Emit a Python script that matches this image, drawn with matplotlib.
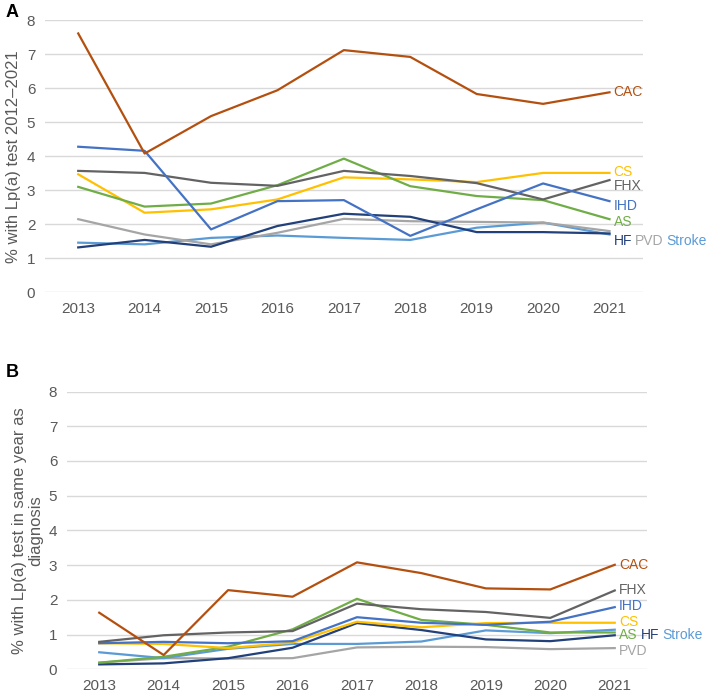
import matplotlib.pyplot as plt

plt.rcParams['font.family'] = ['Liberation Sans', 'DejaVu Sans']

years = ['2013', '2014', '2015', '2016', '2017', '2018', '2019', '2020', '2021']

# Panel A: % with Lp(a) test 2012-2021
a_cac = [7.61, 4.08, 5.18, 5.94, 7.12, 6.92, 5.83, 5.54, 5.88]
a_ihd = [4.28, 4.16, 1.85, 2.68, 2.71, 1.66, 2.44, 3.20, 2.68]
a_fhx = [3.57, 3.51, 3.22, 3.13, 3.57, 3.42, 3.21, 2.73, 3.30]
a_as = [3.10, 2.52, 2.61, 3.15, 3.93, 3.12, 2.83, 2.71, 2.15]
a_cs = [3.47, 2.34, 2.44, 2.73, 3.38, 3.32, 3.24, 3.51, 3.51]
a_hf = [1.32, 1.54, 1.34, 1.95, 2.31, 2.22, 1.77, 1.77, 1.73]
a_pvd = [2.15, 1.70, 1.41, 1.75, 2.16, 2.09, 2.07, 2.05, 1.80]
a_stroke = [1.46, 1.41, 1.60, 1.67, 1.60, 1.54, 1.90, 2.05, 1.70]

# Panel B: % with Lp(a) test in same year as diagnosis
b_cac = [1.63, 0.41, 2.28, 2.09, 3.08, 2.77, 2.33, 2.30, 3.01]
b_fhx = [0.79, 0.98, 1.06, 1.10, 1.89, 1.73, 1.65, 1.48, 2.27]
b_ihd = [0.75, 0.79, 0.75, 0.81, 1.50, 1.34, 1.28, 1.37, 1.79]
b_cs = [0.75, 0.73, 0.61, 0.77, 1.37, 1.21, 1.33, 1.34, 1.34]
b_as = [0.19, 0.36, 0.65, 1.15, 2.03, 1.42, 1.28, 1.06, 1.06]
b_hf = [0.14, 0.17, 0.32, 0.62, 1.33, 1.13, 0.86, 0.81, 0.98]
b_stroke = [0.49, 0.32, 0.59, 0.73, 0.73, 0.80, 1.12, 1.04, 1.14]
b_pvd = [0.19, 0.32, 0.31, 0.32, 0.63, 0.65, 0.64, 0.58, 0.61]

colors = {'CAC': '#B4500F', 'IHD': '#4472C4', 'FHX': '#636363', 'AS': '#70AD47',
          'CS': '#FFC000', 'HF': '#22407A', 'PVD': '#A5A5A5', 'Stroke': '#5B9BD5'}

# draw order (back to front)
series_a = [('Stroke', a_stroke), ('PVD', a_pvd), ('HF', a_hf), ('CS', a_cs),
            ('AS', a_as), ('FHX', a_fhx), ('IHD', a_ihd), ('CAC', a_cac)]
series_b = [('PVD', b_pvd), ('Stroke', b_stroke), ('HF', b_hf), ('AS', b_as),
            ('CS', b_cs), ('IHD', b_ihd), ('FHX', b_fhx), ('CAC', b_cac)]

# end labels: (label group, y position)
labels_a = [(['CAC'], 5.88), (['CS'], 3.53), (['FHX'], 3.14), (['IHD'], 2.55),
            (['AS'], 2.06), (['HF', 'PVD', 'Stroke'], 1.52)]
labels_b = [(['CAC'], 3.01), (['FHX'], 2.29), (['IHD'], 1.81), (['CS'], 1.35),
            (['AS', 'HF', 'Stroke'], 0.98), (['PVD'], 0.53)]

fig = plt.figure(figsize=(7.09, 6.96), dpi=100)
ax_a = fig.add_axes([0.0635, 0.580, 0.843, 0.391])
ax_b = fig.add_axes([0.0945, 0.0384, 0.818, 0.399])

tick_col = '#595959'


def draw_panel(ax, series, labels, ylabel):
    x = list(range(len(years)))
    for name, vals in series:
        ax.plot(x, vals, color=colors[name], lw=1.6)
    ax.set_xlim(-0.5, len(years) - 0.5)
    ax.set_ylim(0, 8)
    ax.set_yticks(range(0, 9))
    ax.set_xticks(x)
    ax.set_xticklabels(years)
    ax.yaxis.grid(True, color='#D9D9D9', lw=1.0)
    ax.set_axisbelow(True)
    for s in ax.spines.values():
        s.set_visible(False)
    ax.tick_params(length=0, labelsize=11, colors=tick_col, pad=7)
    ax.set_ylabel(ylabel, fontsize=12, color=tick_col, labelpad=4, linespacing=1.1)
    # end labels, words of one group placed next to each other
    for names, yv in labels:
        prev = None
        for nm in names:
            if prev is None:
                prev = ax.annotate(nm, xy=(8, yv), xytext=(3, 0),
                                   textcoords='offset points', va='center',
                                   ha='left', fontsize=10, color=colors[nm],
                                   annotation_clip=False)
            else:
                prev = ax.annotate(nm, xy=(1, 0), xycoords=prev,
                                   xytext=(2.2, 0), textcoords='offset points',
                                   va='bottom', ha='left', fontsize=10,
                                   color=colors[nm], annotation_clip=False)


draw_panel(ax_a, series_a, labels_a, '% with Lp(a) test 2012\u20132021')
draw_panel(ax_b, series_b, labels_b, '% with Lp(a) test in same year as\ndiagnosis')

fig.text(0.008, 0.982, 'A', fontsize=13, fontweight='bold', va='center')
fig.text(0.008, 0.465, 'B', fontsize=13, fontweight='bold', va='center')

fig.savefig('out.png', dpi=100)
